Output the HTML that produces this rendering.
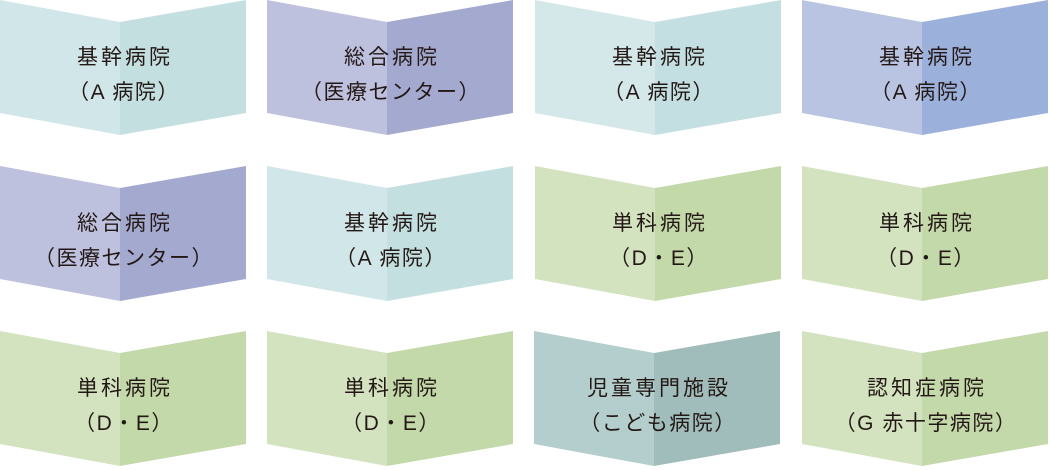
<!DOCTYPE html>
<html><head><meta charset="utf-8"><style>
html,body{margin:0;padding:0;background:#fff;width:1050px;height:470px;overflow:hidden}
svg text{font-family:"Liberation Sans","Noto Sans CJK JP",sans-serif;font-size:21px;fill:#231815;text-anchor:middle}
svg text.a{letter-spacing:3px}
svg text.b{letter-spacing:1.5px}
</style></head><body>
<svg width="1050" height="470" viewBox="0 0 1050 470">
<defs>
<g id="L"><polygon points="0,0 120,22 120,135 0,113"/></g>
<g id="R"><polygon points="120,22 246,0 246,113 120,135"/></g>
</defs>
<!-- row 1 -->
<g transform="translate(0,0)"><use href="#L" fill="#d1e6e8"/><use href="#R" fill="#c3dfe0"/><text class="a" x="125" y="64">基幹病院</text><text class="b" x="124" y="99">（A 病院）</text></g>
<g transform="translate(267,0)"><use href="#L" fill="#bdc1de"/><use href="#R" fill="#a4a9d0"/><text class="a" x="125" y="64">総合病院</text><text class="b" x="124" y="99">（医療センター）</text></g>
<g transform="translate(535,0)"><use href="#L" fill="#d4e8ea"/><use href="#R" fill="#c4dfe1"/><text class="a" x="125" y="64">基幹病院</text><text class="b" x="124" y="99">（A 病院）</text></g>
<g transform="translate(802,0)"><use href="#L" fill="#b8c4e2"/><use href="#R" fill="#9bb1dc"/><text class="a" x="125" y="64">基幹病院</text><text class="b" x="124" y="99">（A 病院）</text></g>
<!-- row 2 -->
<g transform="translate(0,166)"><use href="#L" fill="#bdc1de"/><use href="#R" fill="#a4a9d0"/><text class="a" x="125" y="64">総合病院</text><text class="b" x="124" y="99">（医療センター）</text></g>
<g transform="translate(267,166)"><use href="#L" fill="#d1e6e8"/><use href="#R" fill="#c3dfe0"/><text class="a" x="125" y="64">基幹病院</text><text class="b" x="124" y="99">（A 病院）</text></g>
<g transform="translate(535,166)"><use href="#L" fill="#d3e3bf"/><use href="#R" fill="#c4d9a9"/><text class="a" x="125" y="64">単科病院</text><text class="b" x="124" y="99">（D・E）</text></g>
<g transform="translate(802,166)"><use href="#L" fill="#d3e3bf"/><use href="#R" fill="#c4d9a9"/><text class="a" x="125" y="64">単科病院</text><text class="b" x="124" y="99">（D・E）</text></g>
<!-- row 3 -->
<g transform="translate(0,331)"><use href="#L" fill="#d3e3bf"/><use href="#R" fill="#c4d9a9"/><text class="a" x="125" y="64">単科病院</text><text class="b" x="124" y="99">（D・E）</text></g>
<g transform="translate(267,331)"><use href="#L" fill="#d3e3bf"/><use href="#R" fill="#c4d9a9"/><text class="a" x="125" y="64">単科病院</text><text class="b" x="124" y="99">（D・E）</text></g>
<g transform="translate(534,331)"><use href="#L" fill="#b3cecc"/><use href="#R" fill="#a0bdbb"/><text class="a" x="125" y="64">児童専門施設</text><text class="b" x="124" y="99">（こども病院）</text></g>
<g transform="translate(802,331)"><use href="#L" fill="#d3e3bf"/><use href="#R" fill="#c4d9a9"/><text class="a" x="125" y="64">認知症病院</text><text class="b" x="124" y="99">（G 赤十字病院）</text></g>
</svg>
</body></html>
